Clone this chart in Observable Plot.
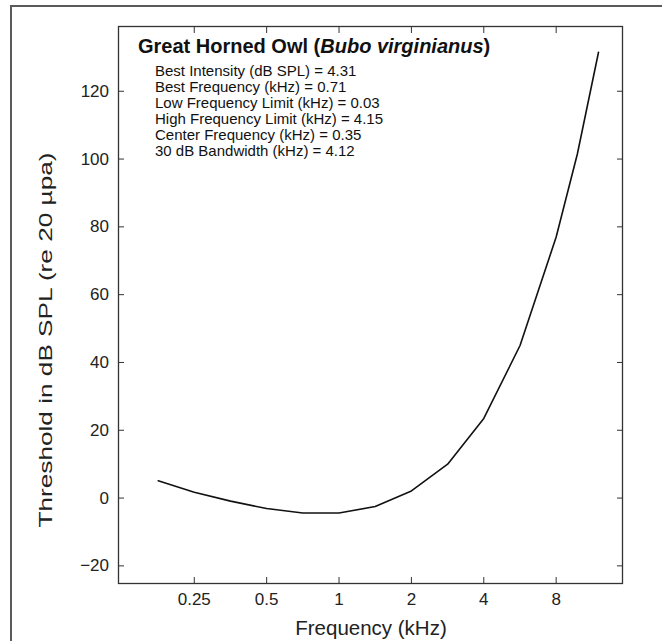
<!DOCTYPE html>
<html>
<head>
<meta charset="utf-8">
<script src="https://cdn.jsdelivr.net/npm/d3@7"></script>
<script src="https://cdn.jsdelivr.net/npm/@observablehq/plot@0.6"></script>
<style>
  html, body { margin: 0; padding: 0; background: #fff; overflow: hidden; }
  #wrap { position: relative; width: 662px; height: 641px; overflow: hidden; }
  #border { position: absolute; left: 10px; top: 5px; width: 800px; height: 800px; border: 2px solid #5a5a5a; box-sizing: border-box; }
  #chart { position: absolute; left: 0; top: 0; }
</style>
</head>
<body>
<div id="wrap"><div id="border"></div><div id="chart"></div></div>
<script>
// Audiogram data (frequency in kHz, threshold in dB SPL)
const frequencies = [0.177, 0.25, 0.354, 0.5, 0.707, 1, 1.414, 2, 2.83, 4, 5.66, 8, 9.8, 12];
const thresholds  = [5.1, 1.7, -0.9, -3.1, -4.4, -4.4, -2.5, 2.1, 10.0, 23.5, 45.0, 77.0, 101.5, 131.5];
const xTicks = [0.25, 0.5, 1, 2, 4, 8];
const yTicks = [-20, 0, 20, 40, 60, 80, 100, 120];
const titleCommon = "Great Horned Owl (";
const titleSpecies = "Bubo virginianus";
const statLabels = ["Best Intensity (dB SPL)", "Best Frequency (kHz)", "Low Frequency Limit (kHz)", "High Frequency Limit (kHz)", "Center Frequency (kHz)", "30 dB Bandwidth (kHz)"];
const statValues = ["4.31", "0.71", "0.03", "4.15", "0.35", "4.12"];
const xLabel = "Frequency (kHz)";
const yLabel = "Threshold in dB SPL (re 20 \u00B5pa)";

const data = frequencies.map((f, i) => ({f, t: thresholds[i]}));
const fmt = d => String(d);
const font = "'Liberation Sans', Arial, Helvetica, sans-serif";

const chart = Plot.plot({
  width: 662,
  height: 641,
  marginLeft: 118,
  marginRight: 40,
  marginTop: 26,
  marginBottom: 58,
  style: {fontFamily: font, fontSize: "17px", background: "transparent", color: "#222"},
  x: {type: "log", base: 2, domain: [0.121, 15.1]},
  y: {domain: [-25.2, 139.1]},
  marks: [
    Plot.axisX({anchor: "bottom", ticks: xTicks, tickFormat: fmt, tickSize: -6, tickPadding: 15, label: null, stroke: "#333"}),
    Plot.axisX({anchor: "top", ticks: xTicks, tickFormat: () => "", tickSize: -6, label: null, stroke: "#333"}),
    Plot.axisY({anchor: "left", ticks: yTicks, tickSize: -6, tickPadding: 15.5, label: null, stroke: "#333"}),
    Plot.axisY({anchor: "right", ticks: yTicks, tickFormat: () => "", tickSize: -6, label: null, stroke: "#333"}),
    Plot.frame({stroke: "#333", strokeWidth: 1.3}),
    Plot.line(data, {x: "f", y: "t", stroke: "#111", strokeWidth: 1.6})
  ]
});
document.getElementById("chart").appendChild(chart);

const svg = d3.select(chart);
const g = svg.append("g").attr("font-family", font).attr("fill", "#111");

const title = g.append("text").attr("x", 138).attr("y", 53)
  .attr("text-anchor", "start").attr("font-size", 20).attr("font-weight", "bold");
title.append("tspan").text(titleCommon);
title.append("tspan").attr("font-style", "italic").text(titleSpecies);
title.append("tspan").text(")");

statLabels.forEach((lab, i) => {
  g.append("text").attr("x", 155).attr("y", 76 + 16 * i)
    .attr("text-anchor", "start").attr("font-size", 15).text(`${lab} = ${statValues[i]}`);
});

g.append("text").attr("x", 371).attr("y", 635)
  .attr("text-anchor", "middle").attr("font-size", 20.5).attr("fill", "#222").text(xLabel);

g.append("text").attr("transform", "translate(47,340) rotate(-90)")
  .attr("text-anchor", "middle").attr("dominant-baseline", "middle")
  .attr("font-size", 19).attr("textLength", 375).attr("lengthAdjust", "spacingAndGlyphs")
  .attr("fill", "#222").text(yLabel);
</script>
</body>
</html>
